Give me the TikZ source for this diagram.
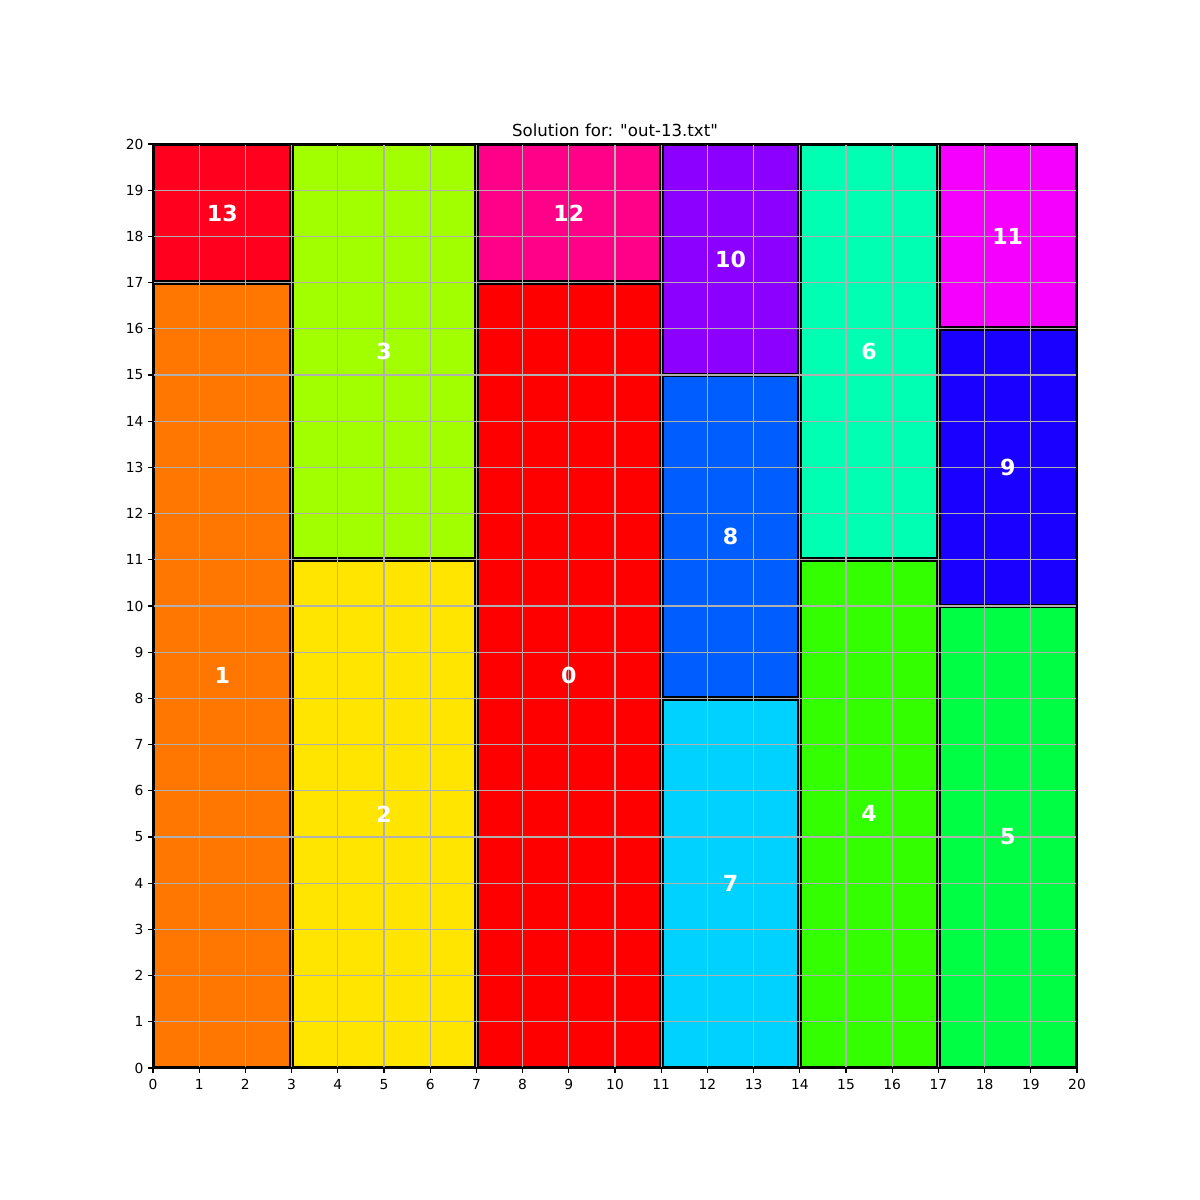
\documentclass[tikz,border=0pt]{standalone}
\usepackage{fontspec}
\setmainfont{DejaVu Sans}[Ligatures=TeXOff]
\definecolor{c0}{HTML}{FF0000}
\definecolor{c1}{HTML}{FF7700}
\definecolor{c2}{HTML}{FFE500}
\definecolor{c3}{HTML}{A2FF00}
\definecolor{c4}{HTML}{33FF00}
\definecolor{c5}{HTML}{00FF44}
\definecolor{c6}{HTML}{00FFB2}
\definecolor{c7}{HTML}{00D2FF}
\definecolor{c8}{HTML}{005DFF}
\definecolor{c9}{HTML}{1A00FF}
\definecolor{c10}{HTML}{8C00FF}
\definecolor{c11}{HTML}{F500FF}
\definecolor{c12}{HTML}{FF0088}
\definecolor{c13}{HTML}{FF001E}
\definecolor{gridgray}{HTML}{B0B0B0}
\begin{document}
\begin{tikzpicture}[x=0.462in,y=0.462in,
  piece/.style={draw=black,line width=3.4pt},
  lbl/.style={text=white,inner sep=0pt,font=\fontsize{16}{19}\selectfont\bfseries},
  gridline/.style={draw=gridgray,line width=0.8pt},
  spine/.style={draw=black,line width=0.8pt},
  tickmark/.style={draw=black,line width=0.8pt},
  ticklbl/.style={inner sep=0pt,font=\fontsize{10}{12}\selectfont}]
\useasboundingbox (-3.3117,-2.8571) rectangle (22.6623,23.1169);
% pieces, clipped to the axes
\begin{scope}
\clip (0,0) rectangle (20,20);
\foreach \xa/\ya/\xb/\yb/\n in {7/0/11/17/0, 0/0/3/17/1, 3/0/7/11/2, 3/11/7/20/3, 14/0/17/11/4, 17/0/20/10/5, 14/11/17/20/6, 11/0/14/8/7, 11/8/14/15/8, 17/10/20/16/9, 11/15/14/20/10, 17/16/20/20/11, 7/17/11/20/12, 0/17/3/20/13}{
  \filldraw[piece,fill=c\n] (\xa,\ya) rectangle (\xb,\yb);
}
\end{scope}
% grid
\foreach \i in {0,...,20}{
  \draw[gridline] (\i,0) -- (\i,20);
  \draw[gridline] (0,\i) -- (20,\i);
}
% labels
\foreach \xa/\ya/\xb/\yb/\n in {7/0/11/17/0, 0/0/3/17/1, 3/0/7/11/2, 3/11/7/20/3, 14/0/17/11/4, 17/0/20/10/5, 14/11/17/20/6, 11/0/14/8/7, 11/8/14/15/8, 17/10/20/16/9, 11/15/14/20/10, 17/16/20/20/11, 7/17/11/20/12, 0/17/3/20/13}{
  \node[lbl] (p\n) at ({(\xa+\xb)/2},{(\ya+\yb)/2}) {\n};
}
% axes frame
\draw[spine] (0,0) rectangle (20,20);
% ticks
\foreach \i in {0,...,20}{
  \draw[tickmark] (\i,0) -- (\i,-0.105);
  \node[ticklbl,anchor=base] (xt\i) at (\i,-0.455) {\i};
  \draw[tickmark] (0,\i) -- (-0.105,\i);
  \node[ticklbl,anchor=east] (yt\i) at (-0.2,\i) {\i};
}
% title
\node[anchor=base,inner sep=0pt,font=\fontsize{12}{14}\selectfont] (title) at (10,20.17) {Solution for: "out-13.txt"};
\end{tikzpicture}
\end{document}
